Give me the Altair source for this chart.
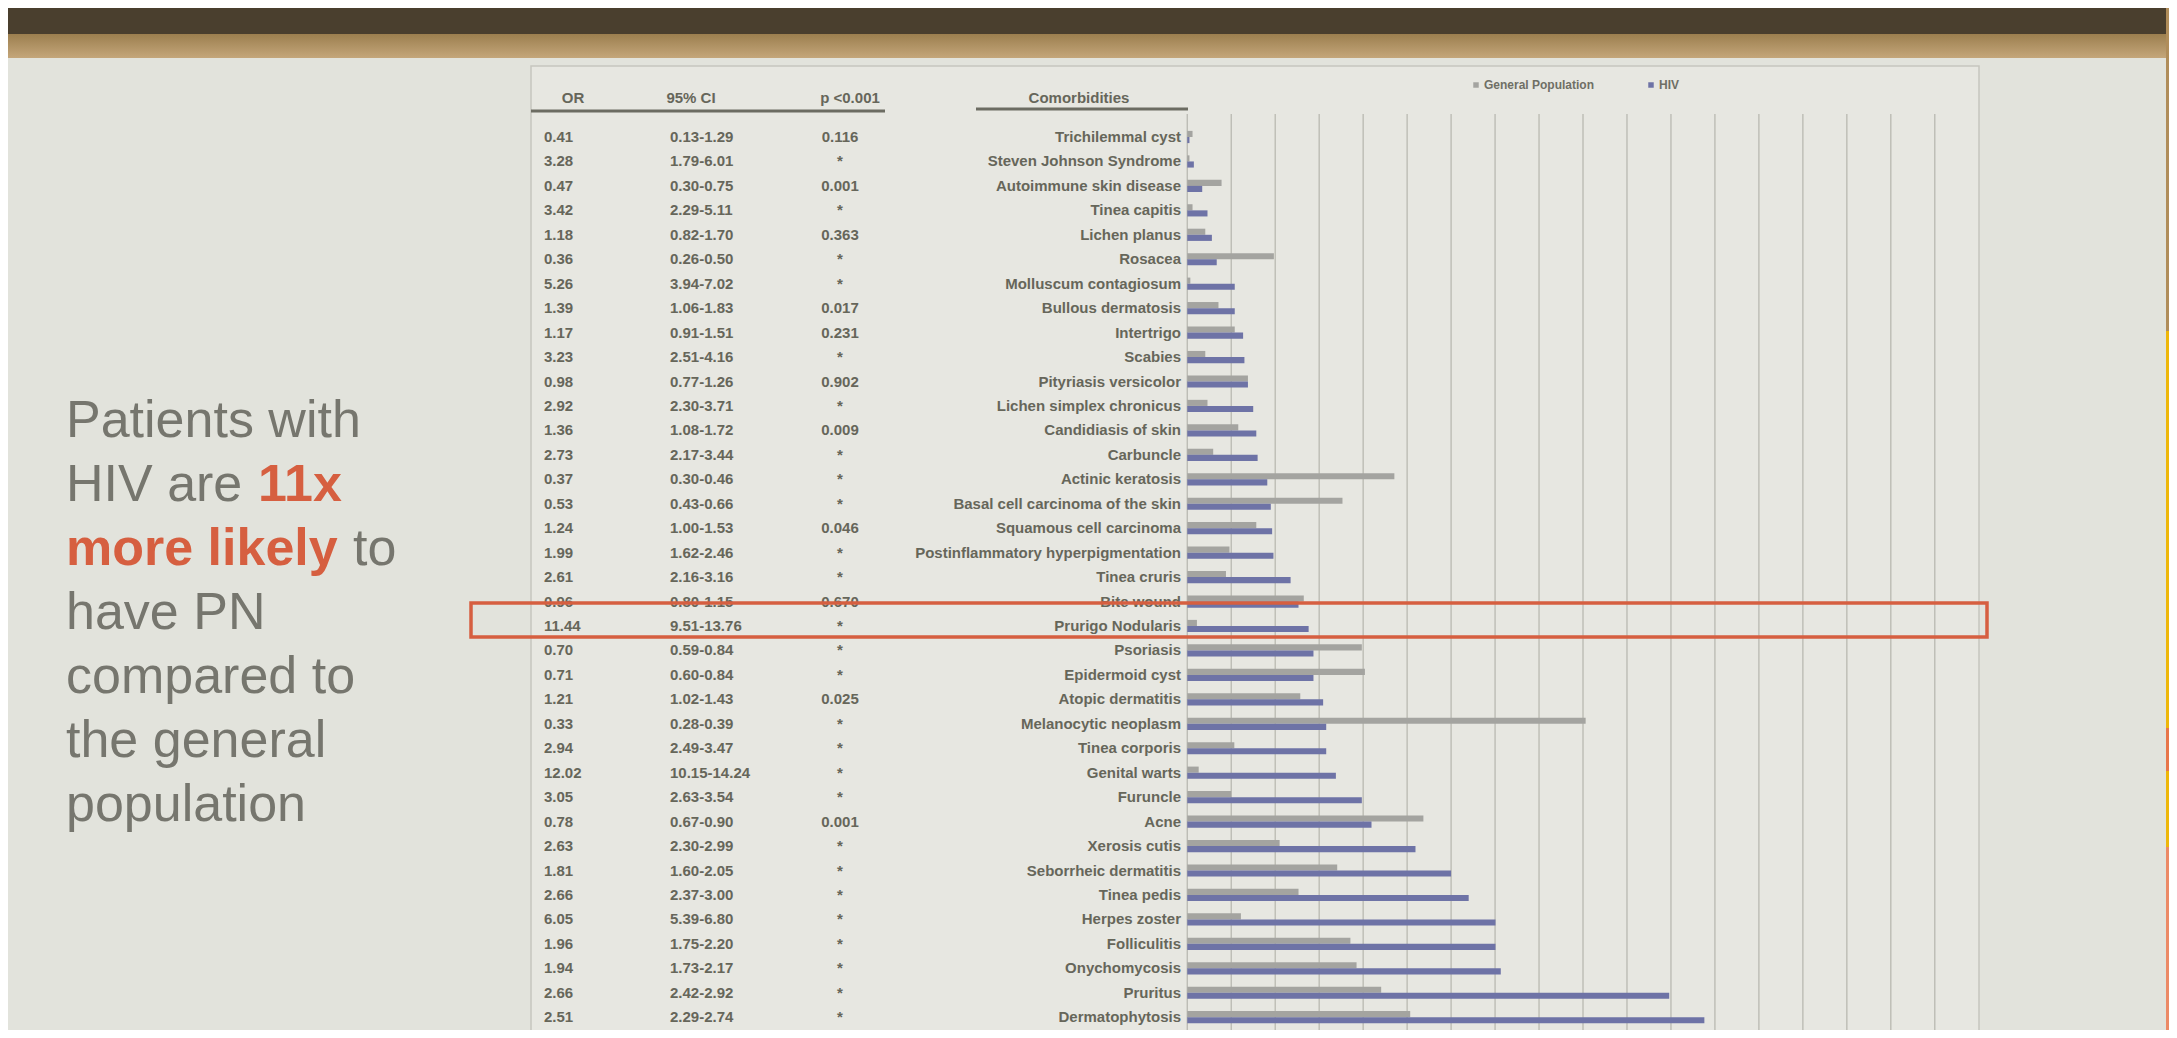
import altair as alt
import pandas as pd

# ---------------- data ----------------
conditions = [
    "Trichilemmal cyst", "Steven Johnson Syndrome", "Autoimmune skin disease",
    "Tinea capitis", "Lichen planus", "Rosacea", "Molluscum contagiosum",
    "Bullous dermatosis", "Intertrigo", "Scabies", "Pityriasis versicolor",
    "Lichen simplex chronicus", "Candidiasis of skin", "Carbuncle",
    "Actinic keratosis", "Basal cell carcinoma of the skin",
    "Squamous cell carcinoma", "Postinflammatory hyperpigmentation",
    "Tinea cruris", "Bite wound", "Prurigo Nodularis", "Psoriasis",
    "Epidermoid cyst", "Atopic dermatitis", "Melanocytic neoplasm",
    "Tinea corporis", "Genital warts", "Furuncle", "Acne", "Xerosis cutis",
    "Seborrheic dermatitis", "Tinea pedis", "Herpes zoster", "Folliculitis",
    "Onychomycosis", "Pruritus", "Dermatophytosis", "(row 38, cut off)",
]
labels = conditions[:-1] + [""]
or_vals = ["0.41", "3.28", "0.47", "3.42", "1.18", "0.36", "5.26", "1.39", "1.17",
           "3.23", "0.98", "2.92", "1.36", "2.73", "0.37", "0.53", "1.24", "1.99",
           "2.61", "0.96", "11.44", "0.70", "0.71", "1.21", "0.33", "2.94", "12.02",
           "3.05", "0.78", "2.63", "1.81", "2.66", "6.05", "1.96", "1.94", "2.66",
           "2.51", ""]
ci_vals = ["0.13-1.29", "1.79-6.01", "0.30-0.75", "2.29-5.11", "0.82-1.70",
           "0.26-0.50", "3.94-7.02", "1.06-1.83", "0.91-1.51", "2.51-4.16",
           "0.77-1.26", "2.30-3.71", "1.08-1.72", "2.17-3.44", "0.30-0.46",
           "0.43-0.66", "1.00-1.53", "1.62-2.46", "2.16-3.16", "0.80-1.15",
           "9.51-13.76", "0.59-0.84", "0.60-0.84", "1.02-1.43", "0.28-0.39",
           "2.49-3.47", "10.15-14.24", "2.63-3.54", "0.67-0.90", "2.30-2.99",
           "1.60-2.05", "2.37-3.00", "5.39-6.80", "1.75-2.20", "1.73-2.17",
           "2.42-2.92", "2.29-2.74", ""]
p_vals = ["0.116", "*", "0.001", "*", "0.363", "*", "*", "0.017", "0.231", "*",
          "0.902", "*", "0.009", "*", "*", "*", "0.046", "*", "*", "0.670", "*",
          "*", "*", "0.025", "*", "*", "*", "*", "0.001", "*", "*", "*", "*", "*",
          "*", "*", "*", ""]
series_names = ["General Population", "HIV"]
gp_vals = [0.12, 0.05, 0.78, 0.12, 0.41, 1.97, 0.07, 0.71, 1.08, 0.41, 1.38, 0.46,
           1.16, 0.59, 4.71, 3.53, 1.57, 0.96, 0.88, 2.65, 0.22, 3.97, 4.04, 2.57,
           9.06, 1.07, 0.26, 1.00, 5.37, 2.10, 3.41, 2.53, 1.22, 3.71, 3.85, 4.41,
           5.07, 5.07]
hiv_vals = [0.05, 0.15, 0.34, 0.46, 0.56, 0.67, 1.08, 1.08, 1.27, 1.30, 1.38, 1.50,
            1.57, 1.60, 1.82, 1.90, 1.93, 1.96, 2.35, 2.53, 2.76, 2.87, 2.87, 3.09,
            3.16, 3.16, 3.38, 3.97, 4.19, 5.19, 6.00, 6.40, 7.01, 7.01, 7.13, 10.96,
            11.76, 14.50]
grid_ticks = list(range(0, 18))
headers = ["OR", "95% CI", "p <0.001", "Comorbidities"]

# ---------------- layout ----------------
W, H = 2161, 1022
OFF = 8


def px(v):
    return v - OFF


BG = "#e2e3dc"
FRAME_FILL = "#e7e7e1"
TXT = "#66665a"
GRAY_TXT = "#76766e"
RED = "#d65f40"
GP_COL = "#a4a4a0"
HIV_COL = "#6e73a6"

ROW0, STEP = 137, 24.45
n = len(conditions)
yscale = alt.Scale(domain=conditions,
                   range=[px(ROW0 - STEP / 2), px(ROW0 - STEP / 2 + STEP * n)],
                   paddingInner=0.5, paddingOuter=0.25)
Y = alt.Y("cond:N", sort=conditions, scale=yscale, axis=None)

ZERO, UNIT = 1188, 44.3
xscale = alt.Scale(domain=[(0 - px(ZERO)) / UNIT, (W - px(ZERO)) / UNIT],
                   nice=False, zero=False)

rows = pd.DataFrame({"cond": conditions, "lab": labels, "orv": or_vals,
                     "ci": ci_vals, "p": p_vals})
bars = pd.DataFrame({
    "cond": conditions * 2,
    "series": [series_names[0]] * n + [series_names[1]] * n,
    "val": gp_vals + hiv_vals,
})
one = pd.DataFrame({"k": [0]})


def box(x1, x2, y1, y2, **kw):
    return alt.Chart(one).mark_rect(**kw).encode(
        x=alt.value(px(x1)), x2=alt.value(px(x2)),
        y=alt.value(px(y1)), y2=alt.value(px(y2)))


layers = []
# top bands of the photographed slide
layers.append(box(0, 2177, 8, 34, color="#4a3f2e"))
layers.append(box(0, 2177, 34, 58, color=alt.Gradient(
    gradient="linear", x1=0, y1=0, x2=0, y2=1,
    stops=[alt.GradientStop(offset=0, color="#9c7f4f"),
           alt.GradientStop(offset=1, color="#c4a67a")])))
# right edge strips
layers.append(box(2158, 2177, 8, 331, color="#b08d5a"))
layers.append(box(2158, 2177, 331, 728, color="#eeb70a"))
layers.append(box(2158, 2177, 728, 771, color="#e8764a"))
layers.append(box(2158, 2177, 771, 847, color="#eeb70a"))
layers.append(box(2158, 2177, 847, 1040, color="#ec8a66"))
# table frame
layers.append(box(523, 1971, 66, 1100, fill=FRAME_FILL, stroke="#c6c6be", strokeWidth=1.5))

# gridlines through the x scale
layers.append(alt.Chart(pd.DataFrame({"g": grid_ticks})).mark_rule(
    color="#b9b9b1", strokeWidth=1.3).encode(
    x=alt.X("g:Q", scale=xscale, axis=None),
    y=alt.value(px(114)), y2=alt.value(H)))

# bars
layers.append(alt.Chart(bars).mark_bar(orient="horizontal").encode(
    y=Y,
    yOffset=alt.YOffset("series:N", sort=series_names,
                        scale=alt.Scale(domain=series_names, paddingInner=0, paddingOuter=0)),
    x=alt.X("val:Q", scale=xscale, axis=None),
    x2=alt.datum(0),
    color=alt.Color("series:N",
                    scale=alt.Scale(domain=series_names, range=[GP_COL, HIV_COL]),
                    legend=alt.Legend(orient="none", direction="horizontal",
                                      legendX=px(1462), legendY=px(79), title=None,
                                      symbolType="square", symbolSize=30,
                                      symbolStrokeWidth=0, labelFontSize=12,
                                      labelColor="#6f6f65", labelFont="Liberation Sans",
                                      labelFontWeight="bold", columnPadding=50,
                                      labelOffset=2)),
))

FONT = "Liberation Sans"
TS = 15
# table columns
layers.append(alt.Chart(rows).mark_text(align="left", baseline="middle", font=FONT,
                                        fontSize=TS, fontWeight="bold", color=TXT).encode(
    y=Y, x=alt.value(px(536)), text="orv:N"))
layers.append(alt.Chart(rows).mark_text(align="left", baseline="middle", font=FONT,
                                        fontSize=TS, fontWeight="bold", color=TXT).encode(
    y=Y, x=alt.value(px(662)), text="ci:N"))
layers.append(alt.Chart(rows).mark_text(align="center", baseline="middle", font=FONT,
                                        fontSize=TS, fontWeight="bold", color=TXT).encode(
    y=Y, x=alt.value(px(832)), text="p:N"))
layers.append(alt.Chart(rows).mark_text(align="right", baseline="middle", font=FONT,
                                        fontSize=TS, fontWeight="bold", color=TXT).encode(
    y=Y, x=alt.value(px(1173)), text="lab:N"))

# headers
hdr_x = [565, 683, 842, 1071]
for h, hx in zip(headers, hdr_x):
    layers.append(alt.Chart(pd.DataFrame({"t": [h]})).mark_text(
        align="center", baseline="middle", font=FONT, fontSize=TS, fontWeight="bold",
        color=TXT).encode(x=alt.value(px(hx)), y=alt.value(px(98)), text="t:N"))
# header underlines
layers.append(alt.Chart(one).mark_rule(color="#6c6c62", strokeWidth=3).encode(
    x=alt.value(px(523)), x2=alt.value(px(877)), y=alt.value(px(111))))
layers.append(alt.Chart(one).mark_rule(color="#6c6c62", strokeWidth=3).encode(
    x=alt.value(px(968)), x2=alt.value(px(1180)), y=alt.value(px(109))))

# highlight box around Prurigo Nodularis
layers.append(alt.Chart(one).mark_rect(fillOpacity=0, stroke=RED, strokeWidth=3.5).encode(
    x=alt.value(px(463)), x2=alt.value(px(1979)),
    y=alt.value(px(603)), y2=alt.value(px(637))))

# left statement
LX = 58
LS = 52
line_y = [421 + i * 64.0 for i in range(7)]
segments = [
    [("Patients with", GRAY_TXT, "normal", 0)],
    [("HIV are", GRAY_TXT, "normal", 0), ("11x", RED, "bold", 192)],
    [("more likely", RED, "bold", 0), ("to", GRAY_TXT, "normal", 287)],
    [("have PN", GRAY_TXT, "normal", 0)],
    [("compared to", GRAY_TXT, "normal", 0)],
    [("the general", GRAY_TXT, "normal", 0)],
    [("population", GRAY_TXT, "normal", 0)],
]
for ly, segs in zip(line_y, segments):
    for t, col, wt, dx in segs:
        layers.append(alt.Chart(pd.DataFrame({"t": [t]})).mark_text(
            align="left", baseline="middle", font=FONT, fontSize=LS, fontWeight=wt,
            color=col).encode(x=alt.value(px(LX + dx)), y=alt.value(px(ly)), text="t:N"))

chart = alt.layer(*layers).properties(
    width=W, height=H,
    autosize=alt.AutoSizeParams(type="fit", contains="padding"),
    padding=0,
).configure(background=BG).configure_view(stroke=None)

chart.save("out.html", embed_options={"renderer": "svg", "actions": False})
